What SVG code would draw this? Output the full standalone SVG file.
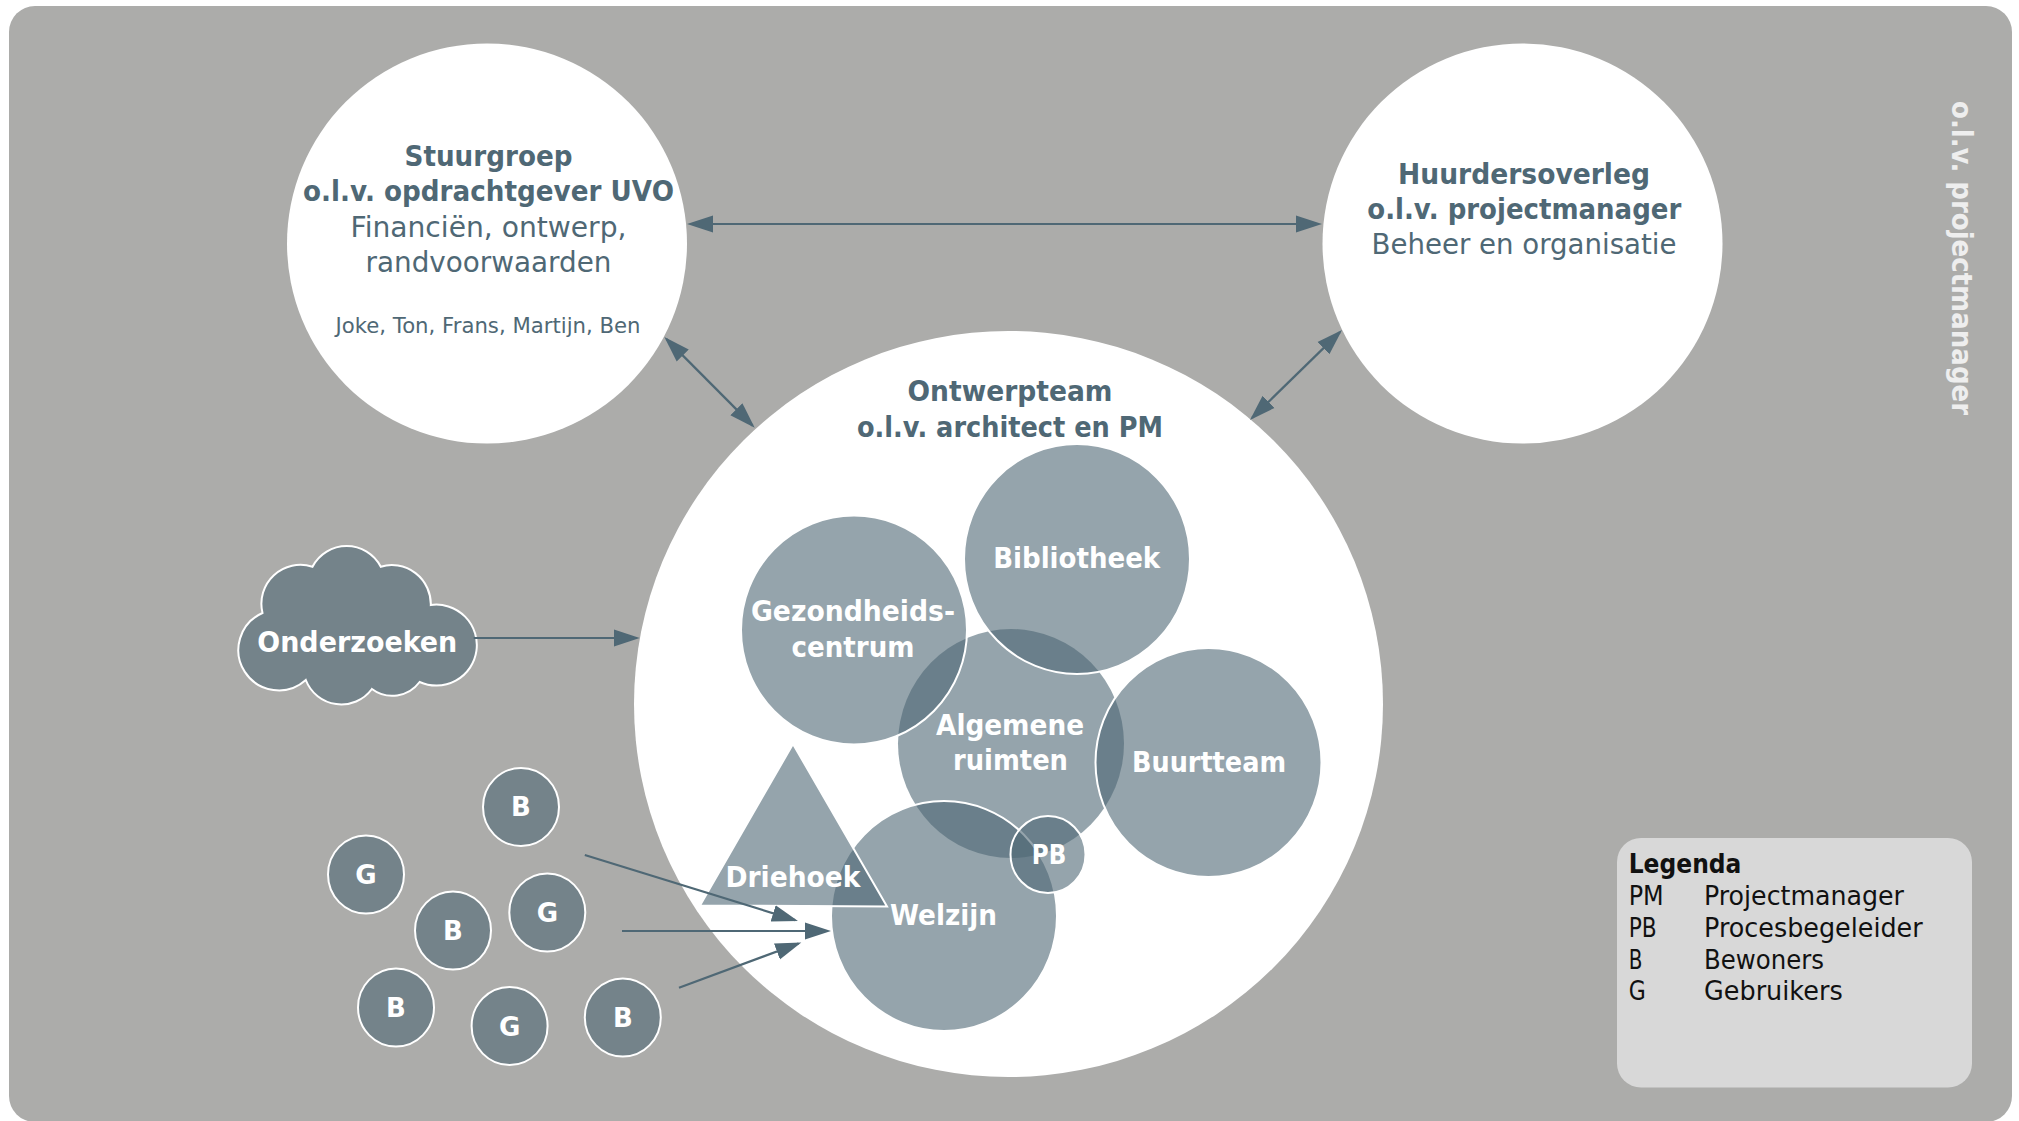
<svg xmlns="http://www.w3.org/2000/svg" width="2019" height="1121" viewBox="0 0 2019 1121">
<style>
text{font-family:"DejaVu Sans","Liberation Sans",sans-serif}
.t{text-anchor:middle;font-size:29px;fill:#4F6875}
.b{font-weight:bold}
.w{text-anchor:middle;font-size:29px;font-weight:bold;fill:#fff}
.s{font-size:26px}
.l{font-size:26px;fill:#111}
.n{fill:#4F6875;fill-opacity:.6;stroke:#fff;stroke-width:2}
.c{fill:none;stroke:#4F6875;stroke-width:2.2}
.d{marker-end:url(#h);marker-start:url(#h)}
.e{marker-end:url(#h)}
</style>
<defs><marker id="h" markerUnits="userSpaceOnUse" markerWidth="28" markerHeight="20" viewBox="0 0 28 20" refX="23" refY="10" orient="auto-start-reverse"><path d="M0,1.5 L26,10 L0,18.5 Z" fill="#4F6875"/></marker></defs>
<rect width="2019" height="1121" fill="#fff"/>
<rect id="background" x="9" y="6" width="2003" height="1116" rx="26" fill="#ACACAA"/>
<text transform="translate(1952,101) rotate(90)" font-size="29" font-weight="bold" fill="#eee" textLength="314" lengthAdjust="spacingAndGlyphs">o.l.v. projectmanager</text>
<g id="stuurgroep"><circle cx="487" cy="243.5" r="200" fill="#fff"/>
<text class="t b" x="488.5" y="166" textLength="168" lengthAdjust="spacingAndGlyphs">Stuurgroep</text>
<text class="t b" x="488.5" y="201" textLength="371" lengthAdjust="spacingAndGlyphs">o.l.v. opdrachtgever UVO</text>
<text class="t" x="488.5" y="236.5" textLength="276" lengthAdjust="spacingAndGlyphs">Financiën, ontwerp,</text>
<text class="t" x="488.5" y="271.5" textLength="246" lengthAdjust="spacingAndGlyphs">randvoorwaarden</text>
<text class="t" style="font-size:22px" x="488" y="333" textLength="305" lengthAdjust="spacingAndGlyphs">Joke, Ton, Frans, Martijn, Ben</text></g>
<g id="huurdersoverleg"><circle cx="1522.5" cy="243.5" r="200" fill="#fff"/>
<text class="t b" x="1524" y="183.5" textLength="252" lengthAdjust="spacingAndGlyphs">Huurdersoverleg</text>
<text class="t b" x="1524.3" y="218.5" textLength="314" lengthAdjust="spacingAndGlyphs">o.l.v. projectmanager</text>
<text class="t" x="1524" y="254" textLength="305" lengthAdjust="spacingAndGlyphs">Beheer en organisatie</text></g>
<g id="ontwerpteam"><ellipse cx="1008.5" cy="704" rx="374.5" ry="373" fill="#fff"/>
<text class="t b" x="1010" y="401" textLength="205" lengthAdjust="spacingAndGlyphs">Ontwerpteam</text>
<text class="t b" x="1010" y="437" textLength="306" lengthAdjust="spacingAndGlyphs">o.l.v. architect en PM</text></g>
<g id="algemene"><ellipse class="n" style="stroke:none" cx="1011" cy="743.5" rx="113" ry="114.5"/></g>
<g id="welzijn"><ellipse class="n" cx="944" cy="916" rx="113" ry="115"/></g>
<g id="gezondheidscentrum"><ellipse class="n" cx="854" cy="630" rx="113" ry="114.5"/></g>
<g id="bibliotheek"><ellipse class="n" cx="1077" cy="559" rx="113" ry="115"/></g>
<g id="buurtteam"><ellipse class="n" cx="1208.5" cy="762.5" rx="113" ry="114.5"/></g>
<g id="driehoek"><path class="n" d="M793,744 L887,906.5 L700,905.5 Z"/></g>
<g id="pb"><ellipse class="n" cx="1048" cy="854.5" rx="37.5" ry="38.5"/></g>
<g id="inner-labels">
<text class="w" x="1076.7" y="567.7" textLength="167" lengthAdjust="spacingAndGlyphs">Bibliotheek</text>
<text class="w" x="853" y="621" textLength="204" lengthAdjust="spacingAndGlyphs">Gezondheids-</text>
<text class="w" x="853" y="656.7" textLength="123" lengthAdjust="spacingAndGlyphs">centrum</text>
<text class="w" x="1010" y="734.8" textLength="148" lengthAdjust="spacingAndGlyphs">Algemene</text>
<text class="w" x="1010.5" y="770" textLength="115" lengthAdjust="spacingAndGlyphs">ruimten</text>
<text class="w" x="1209" y="771.7" textLength="154" lengthAdjust="spacingAndGlyphs">Buurtteam</text>
<text class="w" style="font-size:27px" x="1049" y="863.5" textLength="34.5" lengthAdjust="spacingAndGlyphs">PB</text>
<text class="w" x="793" y="887" textLength="135" lengthAdjust="spacingAndGlyphs">Driehoek</text>
<text class="w" x="943.5" y="925" textLength="107" lengthAdjust="spacingAndGlyphs">Welzijn</text>
</g>
<g id="onderzoeken"><path class="n" d="M262.5,613 A40.4,40.4 0 1 0 305.8,680 A38,38 0 0 0 371.9,689 A34,34 0 0 0 419.6,682 A40.5,40.5 0 1 0 430.8,605 A39,39 0 0 0 380.8,566.7 A38.5,38.5 0 0 0 312.5,566.7 A39,39 0 0 0 262.5,613 Z"/>
<text class="w" x="357.3" y="652" textLength="200" lengthAdjust="spacingAndGlyphs">Onderzoeken</text></g>
<g id="b1"><ellipse class="n" cx="521" cy="807" rx="38" ry="39"/><text class="w s" x="521" y="815.5">B</text></g>
<g id="g1"><ellipse class="n" cx="366" cy="874.5" rx="38" ry="39"/><text class="w s" x="366" y="884">G</text></g>
<g id="b2"><ellipse class="n" cx="453" cy="930.5" rx="38" ry="39"/><text class="w s" x="453" y="939.5">B</text></g>
<g id="g2"><ellipse class="n" cx="547.3" cy="912.5" rx="38" ry="39"/><text class="w s" x="547.3" y="922">G</text></g>
<g id="b3"><ellipse class="n" cx="396" cy="1007.5" rx="38" ry="39"/><text class="w s" x="396" y="1016.5">B</text></g>
<g id="g3"><ellipse class="n" cx="509.6" cy="1026" rx="38" ry="39"/><text class="w s" x="509.6" y="1035.5">G</text></g>
<g id="b4"><ellipse class="n" cx="622.8" cy="1017.5" rx="38" ry="39"/><text class="w s" x="622.8" y="1026.5">B</text></g>
<g id="legenda"><rect x="1617" y="838" width="355" height="249.5" rx="24" fill="#D8D8D8"/>
<text class="l b" x="1628.7" y="873" textLength="112.7" lengthAdjust="spacingAndGlyphs">Legenda</text>
<text class="l" x="1628.7" y="905" textLength="35" lengthAdjust="spacingAndGlyphs">PM</text>
<text class="l" x="1704" y="905" textLength="200" lengthAdjust="spacingAndGlyphs">Projectmanager</text>
<text class="l" x="1628.7" y="937" textLength="28" lengthAdjust="spacingAndGlyphs">PB</text>
<text class="l" x="1704" y="937" textLength="218.7" lengthAdjust="spacingAndGlyphs">Procesbegeleider</text>
<text class="l" x="1628.7" y="968.5" textLength="13.7" lengthAdjust="spacingAndGlyphs">B</text>
<text class="l" x="1704" y="968.5" textLength="120" lengthAdjust="spacingAndGlyphs">Bewoners</text>
<text class="l" x="1628.7" y="1000" textLength="17" lengthAdjust="spacingAndGlyphs">G</text>
<text class="l" x="1704" y="1000" textLength="138.7" lengthAdjust="spacingAndGlyphs">Gebruikers</text></g>
<g id="connectors">
<line class="c d" x1="690" y1="224" x2="1319" y2="224"/>
<line class="c d" x1="666.5" y1="339.1" x2="752.6" y2="425.6"/>
<line class="c d" x1="1339.9" y1="332.1" x2="1252.1" y2="417.9"/>
<line class="c e" x1="473.7" y1="638" x2="636.7" y2="638"/>
<line class="c e" x1="584.8" y1="855" x2="795.1" y2="920.1"/>
<line class="c e" x1="622" y1="931" x2="828" y2="931"/>
<line class="c e" x1="679" y1="987.7" x2="798.5" y2="943.5"/>
</g>
</svg>
